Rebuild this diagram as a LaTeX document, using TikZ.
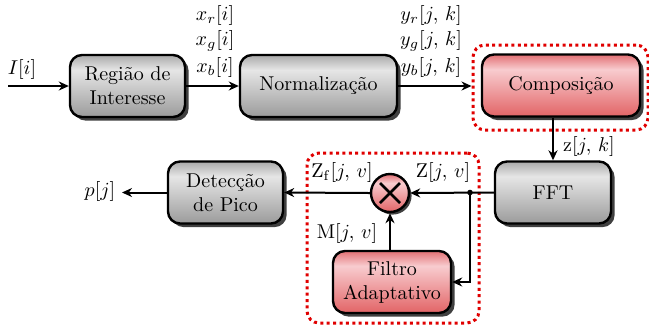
\documentclass[tikz,border=0pt]{standalone}
\usetikzlibrary{shadows,arrows.meta,calc}

\definecolor{gtop}{RGB}{170,170,170}
\definecolor{glight}{RGB}{230,230,230}
\definecolor{gbot}{RGB}{155,155,155}
\definecolor{rtop}{RGB}{226,112,116}
\definecolor{rlight}{RGB}{248,204,207}
\definecolor{rbot}{RGB}{226,100,102}
\definecolor{dotred}{RGB}{224,0,0}

\pgfdeclareverticalshading{grayfill}{100bp}{color(0bp)=(gbot); color(25bp)=(gbot); color(63bp)=(glight); color(75bp)=(gtop); color(100bp)=(gtop)}
\pgfdeclareverticalshading{redfill}{100bp}{color(0bp)=(rbot); color(25bp)=(rbot); color(63bp)=(rlight); color(75bp)=(rtop); color(100bp)=(rtop)}

\tikzset{
  block/.style={draw=black, line width=1.2pt, rounded corners=6pt,
    minimum height=31pt, align=center, font=\normalsize,
    drop shadow={shadow xshift=1.8pt, shadow yshift=-1.8pt, fill=black!75, opacity=1}},
  grayblock/.style={block, shading=grayfill},
  redblock/.style={block, shading=redfill},
  mult/.style={circle, draw=black, line width=1.2pt, minimum size=19pt, inner sep=0pt,
    shading=redfill,
    drop shadow={shadow xshift=1.3pt, shadow yshift=-1.3pt, fill=black!75, opacity=1}},
  conn/.style={line width=1pt, -{Stealth[length=5pt,width=4.5pt,inset=1.6pt]}},
  groupbox/.style={draw=dotred, line width=1.5pt, dash pattern=on 1.5pt off 1.7pt,
    rounded corners=6pt, inner sep=0pt},
  lbl/.style={inner sep=0pt, font=\normalsize}
}

\begin{document}
\begin{tikzpicture}[x=0.5pt, y=-0.5pt]
  \useasboundingbox (0,0) rectangle (649,329);

  % processing blocks
  \node[grayblock, minimum width=57.5pt] (roi)  at (127.5,86)  {Região de\\Interesse};
  \node[grayblock, minimum width=78.5pt] (norm) at (318.5,86)  {Normalização};
  \node[redblock,  minimum width=79pt]   (comp) at (561,85.5)  {Composição};
  \node[grayblock, minimum width=58pt]   (fft)  at (553,192.5) {FFT};
  \node[grayblock, minimum width=57.5pt] (peak) at (225.5,192.5) {Detecção\\de Pico};
  \node[redblock,  minimum width=59pt]   (filt) at (392,282)   {Filtro\\Adaptativo};
  \node[mult] (mul) at (390,193) {};
  \draw[line width=1.4pt] ($(mul)+(-5pt,-5pt)$) -- ($(mul)+(5pt,5pt)$)
                          ($(mul)+(-5pt,5pt)$) -- ($(mul)+(5pt,-5pt)$);

  % dotted groupings
  \node[groupbox, minimum width=87.5pt, minimum height=42.5pt] (grpA) at (560.5,87.5) {};
  \node[groupbox, minimum width=86pt, minimum height=85pt] (grpB) at (393,238) {};

  % free ends and branch point
  \coordinate (in)  at (8,86);
  \coordinate (out) at (122,192.5);
  \coordinate (tap) at (470,192.5);

  % connectors
  \draw[conn] (in) -- (roi.west);
  \draw[conn] (roi.east) -- (norm.west);
  \draw[conn] (norm.east) -- (norm.east -| grpA.west);
  \draw[conn] (comp.south -| fft.north) -- (fft.north);
  \draw[conn] (fft.west) -- (mul.east);
  \draw[conn] (tap) |- (filt.east);
  \fill (tap) circle (1.4pt);
  \draw[conn] (mul.south |- filt.north) -- (mul.south);
  \draw[conn] (mul.west) -- (peak.east);
  \draw[conn] (peak.west) -- (out);

  % signal labels
  \node[lbl] (lI)  at (22,69)  {$I[i]$};
  \node[lbl] (lxr) at (215,15) {$x_r[i]$};
  \node[lbl] (lxg) at (215,41) {$x_g[i]$};
  \node[lbl] (lxb) at (215,67) {$x_b[i]$};
  \node[lbl] (lyr) at (431,15) {$y_r[j,\,k]$};
  \node[lbl] (lyg) at (431,41) {$y_g[j,\,k]$};
  \node[lbl] (lyb) at (431,67) {$y_b[j,\,k]$};
  \node[lbl] (lz)  at (589,146) {$\mathrm{z}[j,\,k]$};
  \node[lbl] (lZf) at (342,172) {$\mathrm{Z}_{\mathrm{f}}[j,\,v]$};
  \node[lbl] (lZ)  at (443,172) {$\mathrm{Z}[j,\,v]$};
  \node[lbl] (lM)  at (347,233) {$\mathrm{M}[j,\,v]$};
  \node[lbl] (lp)  at (100,191) {$p[j]$};
\end{tikzpicture}
\end{document}
